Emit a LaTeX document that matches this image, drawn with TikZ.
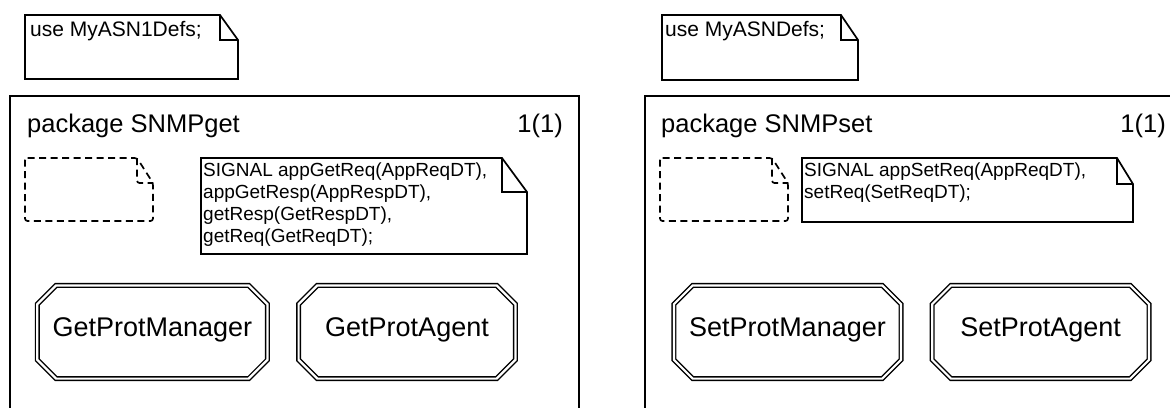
\documentclass[tikz,border=0pt]{standalone}
\usepackage{fontspec}
\setmainfont{Liberation Sans}
\usetikzlibrary{shapes.misc}

% comment symbol with a folded corner round node #2
\newcommand{\notefold}[4][]{%
  \draw[#1] (#2.north west) -- ([xshift=-#3]#2.north east)
    -- ([yshift=-#4]#2.north east) -- (#2.south east) -- (#2.south west) -- cycle;
  \draw[#1] ([xshift=-#3]#2.north east) |- ([yshift=-#4]#2.north east);
}

\tikzset{
 pkg/.style
  = {draw, line width=1.9pt, anchor=north west, inner sep=0pt, outer sep=0pt,
     minimum height=340pt},
 nbox/.style
  = {anchor=north west, inner sep=0pt, outer sep=0pt},
 nline/.style
  = {line width=1.7pt},
 dline/.style
  = {line width=1.7pt, dash pattern=on 7pt off 4.5pt, rounded corners=2.5pt},
 ntxt/.style
  = {anchor=base west, inner sep=0pt, font=\fontsize{21}{24}\selectfont},
 ttl/.style
  = {inner sep=0pt, font=\fontsize{25.5}{30}\selectfont},
 sig/.style
  = {anchor=north west, inner sep=0pt, align=left,
     font=\fontsize{19}{21.7}\selectfont},
 blk/.style
  = {chamfered rectangle, chamfered rectangle xsep=17pt, draw, double,
     line width=1.4pt, double distance=2.2pt, minimum width=216.8pt,
     minimum height=93.2pt, inner sep=0pt, text height=19.5pt, text depth=11pt,
     font=\fontsize{27}{31}\selectfont},
}

\begin{document}
\begin{tikzpicture}[x=1pt,y=-1pt]
\useasboundingbox (0,0) rectangle (1170,407);
\clip (0,0) rectangle (1170,407);

% package SNMPget
\node[nbox,minimum width=213pt,minimum height=64pt] (useL) at (25,15) {};
\notefold[nline]{useL}{18pt}{25pt}
\node[ntxt] (useLtxt) at ([shift={(5,21)}]useL.north west) {use MyASN1Defs;};

\node[pkg,minimum width=569pt] (pkgL) at (10,96) {};
\node[ttl,anchor=base west] (nameL) at (27,132) {package SNMPget};
\node[ttl,anchor=base east] (pageL) at (563,132) {1(1)};

\node[nbox,minimum width=128pt,minimum height=63pt] (dashL) at (25,158) {};
\notefold[dline]{dashL}{16pt}{25pt}

\node[nbox,minimum width=326pt,minimum height=96pt] (sigL) at (201,158) {};
\notefold[nline]{sigL}{25pt}{34pt}
\node[sig] (sigLtxt) at ([shift={(2,5)}]sigL.north west)
  {SIGNAL appGetReq(AppReqDT),\\appGetResp(AppRespDT),\\getResp(GetRespDT),\\getReq(GetReqDT);};

\node[blk] (mgrL) at (152.4,332) {GetProtManager};
\node[blk] (agtL) at (407,332) {GetProtAgent};

% package SNMPset
\node[nbox,minimum width=196pt,minimum height=65pt] (useR) at (662,15) {};
\notefold[nline]{useR}{17pt}{25pt}
\node[ntxt] (useRtxt) at ([shift={(3,21)}]useR.north west) {use MyASNDefs;};

\node[pkg,minimum width=540pt] (pkgR) at (645,96) {};
\node[ttl,anchor=base west] (nameR) at (661,132) {package SNMPset};
\node[ttl,anchor=base east] (pageR) at (1166,132) {1(1)};

\node[nbox,minimum width=128pt,minimum height=63pt] (dashR) at (660,158) {};
\notefold[dline]{dashR}{16pt}{25pt}

\node[nbox,minimum width=331pt,minimum height=64pt] (sigR) at (802,158) {};
\notefold[nline]{sigR}{16pt}{26pt}
\node[sig] (sigRtxt) at ([shift={(2,5)}]sigR.north west)
  {SIGNAL appSetReq(AppReqDT),\\setReq(SetReqDT);};

\node[blk] (mgrR) at (787.5,332) {SetProtManager};
\node[blk] (agtR) at (1040.6,332) {SetProtAgent};

\end{tikzpicture}
\end{document}
